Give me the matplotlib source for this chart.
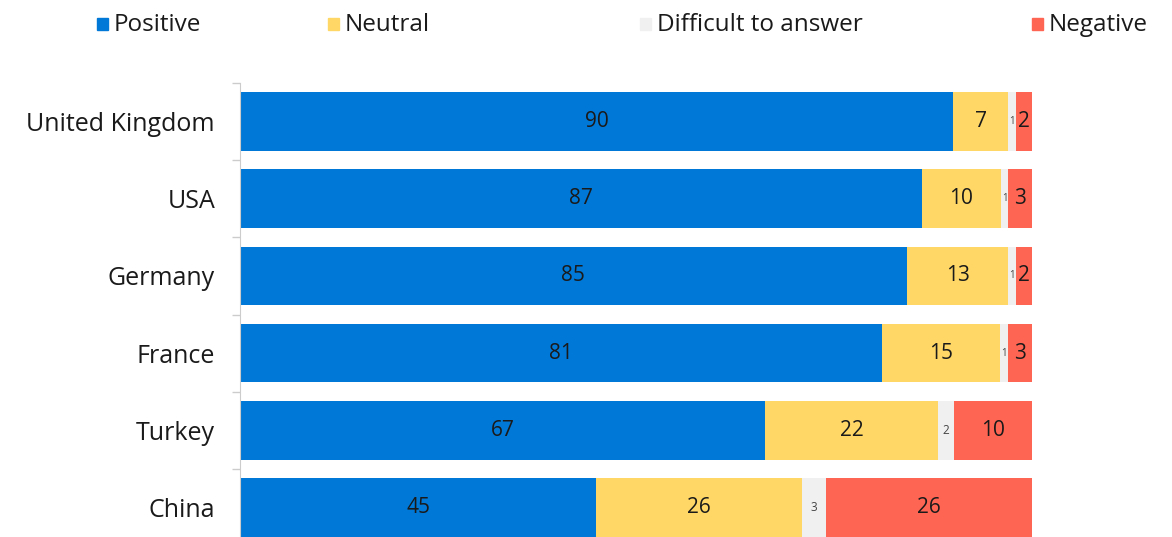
import matplotlib
matplotlib.use("Agg")
import matplotlib.pyplot as plt
from matplotlib.patches import Rectangle

plt.rcParams['font.family'] = ['Open Sans', 'DejaVu Sans']

countries = ["United Kingdom", "USA", "Germany", "France", "Turkey", "China"]
positive = [90, 87, 85, 81, 67, 45]
neutral = [7, 10, 13, 15, 22, 26]
difficult = [1, 1, 1, 1, 2, 3]
negative = [2, 3, 2, 3, 10, 26]

series_names = ["Positive", "Neutral", "Difficult to answer", "Negative"]
colors = ["#0078d7", "#fed766", "#f0f0f0", "#ff6553"]

fig = plt.figure(figsize=(11.72, 5.37), dpi=100)
# axes runs a bit past the bottom edge, the reference is cropped there
ax = fig.add_axes([240 / 1172, (537 - 546) / 537, 792 / 1172, 463 / 537])

series = [positive, neutral, difficult, negative]
totals = [sum(v) for v in zip(*series)]
ypos = list(range(len(countries)))
left = [0.0] * len(countries)

for name, vals, col in zip(series_names, series, colors):
    widths = [v / t * 100 for v, t in zip(vals, totals)]
    ax.barh(ypos, widths, left=left, height=0.76, color=col, label=name)
    for y, l, w, v in zip(ypos, left, widths, vals):
        if v <= 1:
            fs = 7
        elif v <= 3 and name == "Difficult to answer":
            fs = 8.5
        else:
            fs = 15
        ax.text(l + w / 2, y, str(v), ha="center", va="center", fontsize=fs,
                color="#444444" if fs < 12 else "#1a1a1a")
    left = [l + w for l, w in zip(left, widths)]

ax.set_xlim(0, 100)
ax.set_ylim(len(countries) - 0.5, -0.5)
ax.set_yticks(ypos)
ax.set_yticklabels(countries, fontsize=18, color="#1a1a1a")
ax.set_yticks([i + 0.5 for i in range(-1, len(countries))], minor=True)
ax.tick_params(axis="y", which="major", length=0, pad=18)
ax.tick_params(axis="y", which="minor", length=6, color="#cccccc", width=1)
ax.set_xticks([])
for s in ["top", "right", "bottom"]:
    ax.spines[s].set_visible(False)
ax.spines["left"].set_color("#cccccc")

# legend along the top
legend_x = [97, 328, 640, 1032]
for x, name, col in zip(legend_x, series_names, colors):
    fig.patches.append(Rectangle((x / 1172, 1 - 30 / 537), 11 / 1172, 12 / 537,
                                 transform=fig.transFigure, color=col))
    fig.text((x + 17) / 1172, 1 - 25 / 537, name, fontsize=17.5, va="center",
             ha="left", color="#1a1a1a")

fig.savefig("out.png", dpi=100)
